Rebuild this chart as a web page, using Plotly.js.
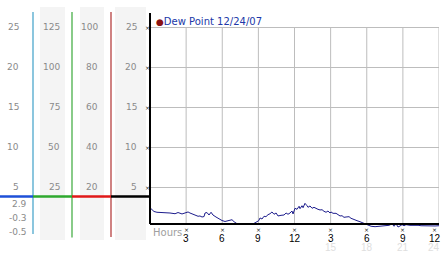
<!DOCTYPE html>
<html>
<head>
<meta charset="utf-8">
<script src="https://cdn.plot.ly/plotly-3.0.1.min.js"></script>
<style>html,body{margin:0;padding:0;background:#fff;}#chart{width:442px;height:253px;}</style>
</head>
<body>
<div id="chart"></div>
<script>
// ---- data ----
const hours = [0,0.17,0.33,0.58,0.91,1.25,1.66,2.08,2.33,2.66,2.91,3.16,3.32,3.57,3.82,3.99,4.15,4.32,4.49,4.57,4.73,4.90,5.07,5.23,5.48,5.73,5.98,6.23,6.48,6.81,6.98,7.23,7.48,7.89,8.31,8.55,8.80,9.03,9.14,9.30,9.47,9.63,9.80,9.97,10.13,10.30,10.47,10.63,10.88,11.13,11.30,11.46,11.63,11.79,11.88,12.04,12.21,12.38,12.46,12.62,12.71,12.87,13.04,13.12,13.29,13.46,13.62,13.79,13.95,14.12,14.29,14.45,14.62,14.78,14.95,15.03,15.20,15.45,15.61,15.78,15.95,16.11,16.28,16.53,16.69,16.94,17.19,17.44,17.77,18.02,18.19,18.36,18.69,18.94,19.19,19.52,19.85,20.10,20.27,20.43,20.60,20.76,20.93,21.10,21.26,21.59,21.93,22.26,22.51,22.84,23.26,23.67,24.0];
const dewPoint = [2.41,2.13,1.94,1.84,1.84,1.81,1.75,1.66,1.81,1.63,1.75,1.88,1.75,1.59,1.41,1.34,1.38,1.25,1.31,1.75,1.81,1.50,1.84,1.50,1.25,1.00,0.81,0.69,0.78,0.91,0.66,0.41,0.34,0.34,0.35,0.38,0.59,0.79,1.13,1.00,1.34,1.29,1.54,1.66,1.88,1.59,1.75,1.38,1.46,1.50,1.75,1.59,1.75,2.00,1.63,2.34,2.21,2.59,2.29,2.66,2.41,2.96,2.66,2.46,2.63,2.34,2.46,2.29,2.21,2.13,2.16,1.96,1.84,2.00,1.75,1.88,1.71,1.71,1.59,1.38,1.41,1.21,1.25,1.29,1.09,0.91,0.79,0.66,0.46,0.31,0.16,0.09,0.04,0.09,0.13,0.16,0.21,0.38,0.09,0.41,0.00,0.13,0.29,0.16,0.29,0.21,0.25,0.21,0.16,0.13,0.13,0.13,0.16];
const seriesName = 'Dew Point 12/24/07';
const xTickVals = [3,6,9,12,15,18,21,24];
const xTickText = ['3','6','9','12','3','6','9','12'];
const xFaintVals = [15,18,21,24];
const xFaintText = ['15','18','21','24'];
const yTickVals = [5,10,15,20,25];
const col1Labels = ['5','10','15','20','25'];
const col2Labels = ['25','50','75','100','125'];
const col3Labels = ['20','40','60','80','100'];
const col4Labels = ['5','10','15','20','25'];
const readoutLabels = ['2.9','-0.3','-0.5'];

// ---- layout config ----
const Y_MIN = -0.125, Y_MAX = 26.75;
const H = 253, MT = 13, MB = 25;
const plotH = H - MT - MB;
const py = p => (H - MB - p) / plotH; // pixel -> paper y
const readoutPx = [203.7, 218, 232];
const levelY = 3.8;
const baseY = 0.375;
const gridTop = 25;
const gray = '#8a8a8a';
const labFont = {family: 'DejaVu Sans', size: 9, color: gray};
const tickFont = {family: 'Liberation Sans', size: 10, color: '#000'};
const markFont = {family: 'DejaVu Sans', size: 6, color: '#222'};

const shapes = [];
// column shading
[[40,65],[80,104],[115,146]].forEach(([a,b]) => shapes.push({type:'rect', xref:'x2', yref:'paper', x0:a, x1:b, y0:py(240), y1:py(7), fillcolor:'#f4f4f4', line:{width:0}, layer:'below'}));
// column separator lines
[[33,'#3fa0c8',234],[72,'#3aa83a',237.5],[111,'#b03030',237]].forEach(([x,c,b]) => shapes.push({type:'line', xref:'x2', yref:'paper', x0:x, x1:x, y0:py(b), y1:py(12), line:{color:c, width:1.2}}));
// level segments
[[0,33,'#1e50d8'],[33,72,'#2ea82e'],[72,111,'#e01818'],[111,150,'#000000']].forEach(([a,b,c]) => shapes.push({type:'line', xref:'x2', yref:'y2', x0:a, x1:b, y0:levelY, y1:levelY, line:{color:c, width:2.5}}));
// vertical grid
xTickVals.forEach(v => shapes.push({type:'line', xref:'x', yref:'y', x0:v, x1:v, y0:baseY, y1:gridTop, line:{color:'#bdbdbd', width:1}, layer:'below'}));
// axis lines
shapes.push({type:'line', xref:'x domain', yref:'y', x0:0, x1:1, y0:baseY, y1:baseY, line:{color:'#000', width:2}});
shapes.push({type:'line', xref:'x domain', yref:'paper', x0:0, x1:0, y0:py(224), y1:py(13), line:{color:'#000', width:2}});

const annotations = [];
const colAnn = (labels, x) => labels.forEach((t,i) => annotations.push({xref:'x2', yref:'y2', x:x, y:yTickVals[i], text:t, showarrow:false, xanchor:'right', yanchor:'middle', font:labFont}));
colAnn(col1Labels, 21);
colAnn(col2Labels, 61.5);
colAnn(col3Labels, 100);
colAnn(col4Labels, 139);
readoutLabels.forEach((t,i) => annotations.push({xref:'x2', yref:'paper', x:28.5, y:py(readoutPx[i]), text:t, showarrow:false, xanchor:'right', yanchor:'middle', font:labFont}));
// tick marks (small crosses) on the y axis and below the hour axis
yTickVals.forEach(v => annotations.push({xref:'x domain', yref:'y', x:0, y:v, xshift:-2.5, text:'×', showarrow:false, xanchor:'center', yanchor:'middle', font:markFont, borderpad:0}));
xTickVals.forEach((v,i) => annotations.push({xref:'x', yref:'paper', x:v, y:py(229.5), xshift: i === xTickVals.length-1 ? -4.5 : 0, text:'×', showarrow:false, xanchor:'center', yanchor:'middle', font:markFont, borderpad:0}));
// hour tick labels (last one kept inside the picture)
xTickVals.forEach((v,i) => annotations.push({xref:'x', yref:'paper', x:v, y:py(238), text:xTickText[i], showarrow:false, xanchor: i === xTickVals.length-1 ? 'right' : 'center', xshift: i === xTickVals.length-1 ? 3 : 0, yanchor:'middle', font:tickFont, borderpad:0}));
xFaintVals.forEach((v,i) => annotations.push({xref:'x', yref:'paper', x:v, y:py(247.5), text:xFaintText[i], showarrow:false, xanchor: i === xFaintVals.length-1 ? 'right' : 'center', xshift: i === xFaintVals.length-1 ? 2 : 0, yanchor:'middle', font:{family:'Liberation Sans', size:10, color:'#dedede'}, borderpad:0}));
annotations.push({xref:'x domain', yref:'paper', x:0, y:py(21), xshift:4, text:'<span style="color:#8b1212;font-size:9px">●</span>' + seriesName, showarrow:false, xanchor:'left', yanchor:'middle', font:{family:'DejaVu Sans', size:10, color:'#2038a8'}});
annotations.push({xref:'x domain', yref:'paper', x:0, y:py(232), xshift:1, text:'Hours', showarrow:false, xanchor:'left', yanchor:'middle', font:{family:'DejaVu Sans', size:10, color:'#a0a0a0'}});

const traces = [
  {x: hours, y: dewPoint, type:'scatter', mode:'lines', name: seriesName, line:{color:'#1c1c8c', width:1}, hoverinfo:'skip'},
  {x:[0,150], y:[Y_MIN,Y_MIN], xaxis:'x2', yaxis:'y2', type:'scatter', mode:'lines', line:{width:0}, hoverinfo:'skip'}
];

const layout = {
  width: 442, height: H,
  margin: {l:0, r:3, t:MT, b:MB, pad:0},
  paper_bgcolor:'#fff', plot_bgcolor:'rgba(0,0,0,0)',
  showlegend:false,
  xaxis: {domain:[150/439, 1], range:[0,24], showgrid:false, zeroline:false, showline:false, ticks:'', tickvals:xTickVals, showticklabels:false, fixedrange:true},
  yaxis: {range:[Y_MIN, Y_MAX], showgrid:true, gridcolor:'#bdbdbd', gridwidth:1, zeroline:false, showline:false, ticks:'', tickvals:yTickVals, showticklabels:false, fixedrange:true},
  xaxis2: {domain:[0, 150/439], range:[0,150], visible:false, anchor:'y2', fixedrange:true},
  yaxis2: {range:[Y_MIN, Y_MAX], visible:false, anchor:'x2', fixedrange:true},
  shapes: shapes,
  annotations: annotations,
  font: {family:'DejaVu Sans'}
};

Plotly.newPlot('chart', traces, layout, {displayModeBar:false, staticPlot:true});
</script>
</body>
</html>
